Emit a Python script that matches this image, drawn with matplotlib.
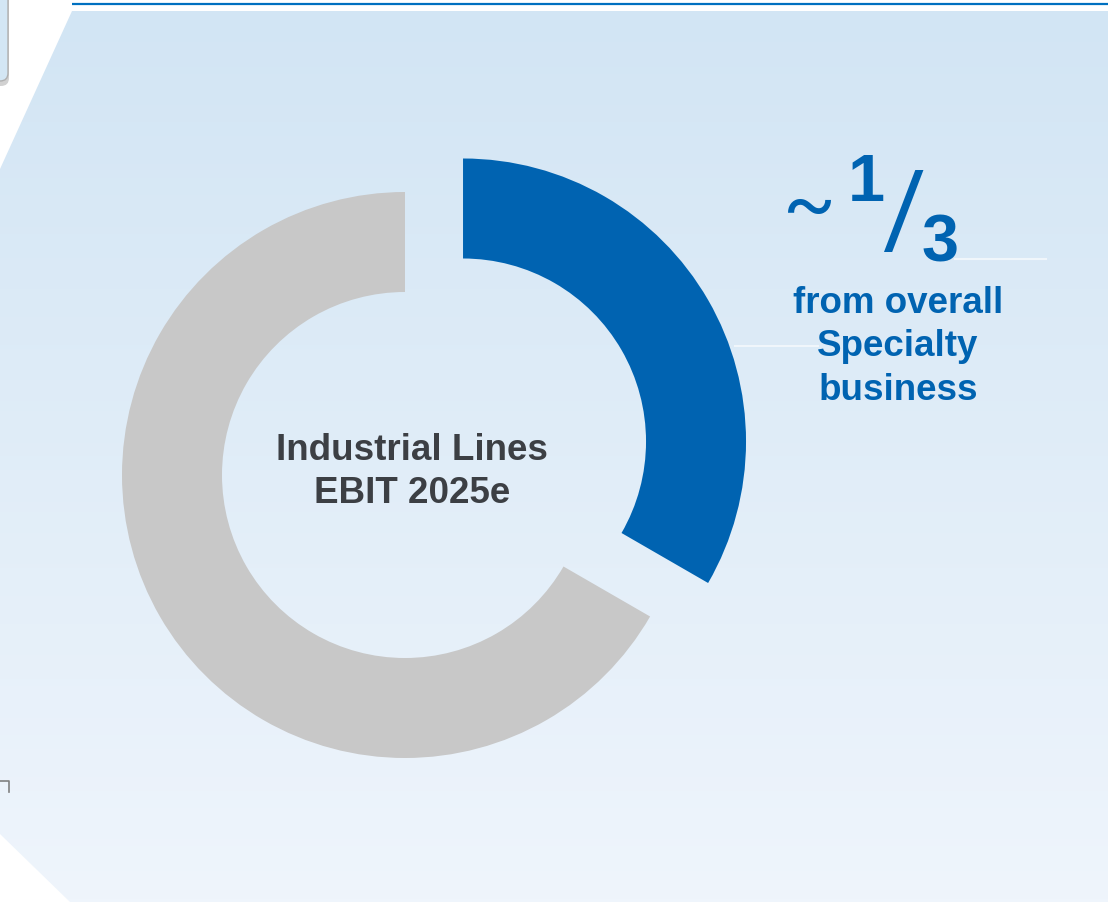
import numpy as np
import matplotlib.pyplot as plt
from matplotlib.patches import Polygon, FancyBboxPatch
from matplotlib.colors import LinearSegmentedColormap

plt.rcParams['font.family'] = ['Liberation Sans', 'DejaVu Sans']

# data: share of Industrial Lines EBIT 2025e, in thirds
segments = ["Specialty", "Other"]
share = [1, 2]
colors = ["#0063b1", "#c8c8c8"]

W, H = 1108, 903
fig = plt.figure(figsize=(W / 100, H / 100), dpi=100)
ax = fig.add_axes([0, 0, 1, 1])
ax.set_xlim(0, W)
ax.set_ylim(0, H)
ax.set_aspect('equal')
ax.axis('off')

def Y(y):
    # picture rows -> axes y
    return H - y

# background panel with soft vertical gradient
panel = Polygon([(72, Y(12)), (W, Y(12)), (W, Y(903)), (70, Y(903)),
                 (0, Y(835)), (0, Y(170))], closed=True, fc='none', ec='none')
ax.add_patch(panel)
cmap = LinearSegmentedColormap.from_list("bg", ["#d2e5f4", "#eff5fc"])
grad = np.linspace(0, 1, 256).reshape(-1, 1)
img = ax.imshow(grad, cmap=cmap, extent=[0, W, 0, Y(12)], origin='upper',
                aspect='auto', zorder=0)
img.set_clip_path(panel)

# top rule
ax.plot([72, W], [Y(4.5), Y(4.5)], color="#0070c0", lw=1.6, solid_capstyle='butt')

# corner box remnant top left
ax.add_patch(FancyBboxPatch((-40, Y(87)), 49, 110, boxstyle="round,pad=0,rounding_size=8",
                            fc="#9a9a9a", ec='none', alpha=0.45, zorder=1))
ax.add_patch(FancyBboxPatch((-40, Y(82)), 48, 110, boxstyle="round,pad=0,rounding_size=8",
                            fc="#d3e6f4", ec="#b0b0b0", lw=1, zorder=2))

# small corner mark
ax.plot([0, 9, 9], [Y(782), Y(782), Y(793)], color="#808080", lw=1.2)

# faint guide lines
ax.plot([955, 1046], [Y(260), Y(260)], color="white", lw=1.5, alpha=0.6)
ax.plot([735, 818], [Y(347), Y(347)], color="white", lw=1.5, alpha=0.6)

# donut
ax.pie(share, colors=colors, startangle=90, counterclock=False,
       center=(405, Y(476)), radius=283, explode=[67, 0],
       wedgeprops=dict(width=100, linewidth=0), frame=True)
ax.set_xlim(0, W)
ax.set_ylim(0, H)
ax.axis('off')

ax.text(412, Y(472), "Industrial Lines\nEBIT 2025e", ha='center', va='center',
        fontsize=26.5, fontweight='bold', color="#3c3f44", linespacing=1.3)

# ~1/3 label
blue = "#0063b1"
thin = ['Roboto', 'DejaVu Sans']
ax.text(809, Y(208), "~", ha='center', va='center', fontsize=56, color=blue,
        family=thin, fontweight='normal')
ax.text(866, Y(184), "1", ha='center', va='center', fontsize=48, fontweight='bold', color=blue)
ax.text(904, Y(218), "/", ha='center', va='center', fontsize=76, color=blue,
        family=thin, fontweight='normal')
ax.text(940, Y(245), "3", ha='center', va='center', fontsize=48, fontweight='bold', color=blue)
ax.text(898, Y(347), "from overall\nSpecialty\nbusiness", ha='center', va='center',
        fontsize=26.5, fontweight='bold', color=blue, linespacing=1.3)

fig.savefig("out.png", dpi=100)
